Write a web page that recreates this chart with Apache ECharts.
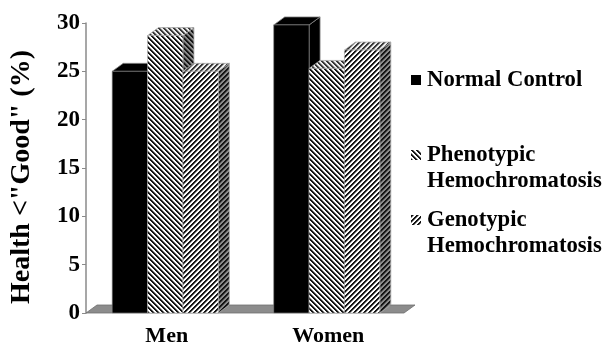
<!DOCTYPE html>
<html>
<head>
<meta charset="utf-8">
<script src="https://cdn.jsdelivr.net/npm/echarts@6/dist/echarts.min.js"></script>
<style>
html, body { margin: 0; padding: 0; background: #fff; }
#chart { width: 603px; height: 350px; }
</style>
</head>
<body>
<div id="chart"></div>
<script>
// Share of people rating their health below "Good", by sex and group
var categories = ['Men', 'Women'];
var normalControl = [25, 29.8];
var phenotypic = [28.7, 25.3];
var genotypic = [25, 27.2];
var yTicks = [0, 5, 10, 15, 20, 25, 30];
var seriesNames = ['Normal Control', 'Phenotypic Hemochromatosis', 'Genotypic Hemochromatosis'];

var FONT = "'Times New Roman', Times, 'Liberation Serif', 'DejaVu Serif', serif";
var DEPTH_X = 11;      // 3D depth offset to the right
var DEPTH_Y = 8;       // 3D depth offset upwards
var BAR_RATIO = 0.219; // bar width as share of a category band

// Diagonal stripe tiles; dir = 1 draws "\" lines, dir = -1 draws "/" lines
function stripes(dir, ink, paper) {
  var n = 5;
  var c = document.createElement('canvas');
  c.width = n; c.height = n;
  var ctx = c.getContext('2d');
  var img = ctx.createImageData(n, n);
  function rgb(h) { return [parseInt(h.substr(1, 2), 16), parseInt(h.substr(3, 2), 16), parseInt(h.substr(5, 2), 16)]; }
  function mix(p, q, t) { return [0, 1, 2].map(function (j) { return Math.round(p[j] * t + q[j] * (1 - t)); }); }
  var a = rgb(ink), b = rgb(paper);
  // two solid ink pixels, one soft edge pixel, two paper pixels
  var ramp = [a, a, mix(a, b, 0.5), b, b];
  for (var y = 0; y < n; y++) {
    for (var x = 0; x < n; x++) {
      var k = dir > 0 ? ((x - y) % n + n) % n : (x + y) % n;
      var col = ramp[k];
      var i = (y * n + x) * 4;
      img.data[i] = col[0]; img.data[i + 1] = col[1]; img.data[i + 2] = col[2]; img.data[i + 3] = 255;
    }
  }
  ctx.putImageData(img, 0, 0);
  return { image: c, repeat: 'repeat' };
}

var faceStyles = [
  { front: '#000000', top: '#000000', side: '#000000', edge: '#8a8a8a' },
  { front: stripes(1, '#151515', '#ffffff'), top: stripes(1, '#383838', '#eeeeee'), side: stripes(1, '#151515', '#8a8a8a'), edge: '#aaaaaa' },
  { front: stripes(-1, '#151515', '#ffffff'), top: stripes(-1, '#383838', '#eeeeee'), side: stripes(-1, '#151515', '#8a8a8a'), edge: '#aaaaaa' }
];

function barRenderer(idx) {
  var st = faceStyles[idx];
  return function (params, api) {
    var cat = api.value(0);
    var base = api.coord([cat, 0]);
    var top = api.coord([cat, api.value(1)]);
    var band = api.size([1, 0])[0];
    var bw = band * BAR_RATIO;
    var x0 = base[0] + (idx - 1.5) * bw - 1.5;
    var x1 = x0 + bw;
    var yb = base[1], yt = top[1];
    var dx = DEPTH_X, dy = DEPTH_Y;
    return {
      type: 'group',
      children: [
        { type: 'polygon', shape: { points: [[x1, yt], [x1 + dx, yt - dy], [x1 + dx, yb - dy], [x1, yb]] },
          style: { fill: st.side, stroke: st.edge, lineWidth: 0.8 } },
        { type: 'polygon', shape: { points: [[x0, yt], [x0 + dx, yt - dy], [x1 + dx, yt - dy], [x1, yt]] },
          style: { fill: st.top, stroke: st.edge, lineWidth: 0.8 } },
        { type: 'polygon', shape: { points: [[x0, yt], [x1, yt], [x1, yb], [x0, yb]] },
          style: { fill: st.front, stroke: st.edge, lineWidth: 0.6 } }
      ]
    };
  };
}

function floorRenderer(params, api) {
  var cs = params.coordSys;
  var y0 = api.coord([0, 0])[1];
  var xl = cs.x, xr = cs.x + cs.width - 5;
  return {
    type: 'polygon',
    shape: { points: [[xl, y0], [xl + DEPTH_X, y0 - DEPTH_Y], [xr + DEPTH_X, y0 - DEPTH_Y], [xr, y0]] },
    style: { fill: '#8c8c8c', stroke: '#6e6e6e', lineWidth: 0.8 }
  };
}

function pairs(values) {
  return values.map(function (v, i) { return [i, v]; });
}

var valueSets = [normalControl, phenotypic, genotypic];
var series = [{
  type: 'custom', name: 'floor', data: [[0, 0]], z: 1, silent: true,
  renderItem: floorRenderer, encode: { x: 0, y: 1 }
}];
valueSets.forEach(function (vals, i) {
  series.push({
    type: 'custom',
    name: seriesNames[i],
    data: pairs(vals),
    z: 2 + i,
    encode: { x: 0, y: 1 },
    itemStyle: { color: faceStyles[i].front },
    renderItem: barRenderer(i)
  });
});

function legendText(name) {
  if (name === 'Normal Control') return name;
  return '\u00a0\n' + name.split(' ').join('\n');
}

function legendAt(name, top) {
  return {
    data: [name],
    left: 411,
    top: top,
    padding: 0,
    itemWidth: 10,
    itemHeight: 10,
    itemGap: 0,
    icon: 'rect',
    selectedMode: false,
    formatter: legendText,
    textStyle: { fontFamily: FONT, fontWeight: 'bold', fontSize: 22.7, color: '#000', lineHeight: 26, padding: [0, 0, 0, 1] }
  };
}

var chart = echarts.init(document.getElementById('chart'), null, { renderer: 'canvas' });
chart.setOption({
  animation: false,
  backgroundColor: '#ffffff',
  grid: { left: 83, top: 23, width: 326, height: 290, containLabel: false },
  legend: [
    legendAt(seriesNames[0], 67),
    legendAt(seriesNames[1], 116),
    legendAt(seriesNames[2], 181)
  ],
  xAxis: {
    type: 'category',
    data: categories,
    axisLine: { show: false },
    axisTick: { show: false },
    axisLabel: { fontFamily: FONT, fontWeight: 'bold', fontSize: 22, color: '#000', margin: 12 }
  },
  yAxis: {
    type: 'value',
    min: yTicks[0],
    max: yTicks[yTicks.length - 1],
    interval: yTicks[1] - yTicks[0],
    name: 'Health <"Good" (%)',
    nameLocation: 'middle',
    nameGap: 50,
    nameTextStyle: { fontFamily: FONT, fontWeight: 'bold', fontSize: 28, color: '#000', padding: [0, 18, 0, 0] },
    axisLine: { show: true, lineStyle: { color: '#8a8a8a', width: 1.5 } },
    axisTick: { show: true, length: 4, lineStyle: { color: '#8a8a8a', width: 1 } },
    axisLabel: { fontFamily: FONT, fontWeight: 'bold', fontSize: 23, color: '#000', margin: 6 },
    splitLine: { show: false }
  },
  series: series
});
</script>
</body>
</html>
